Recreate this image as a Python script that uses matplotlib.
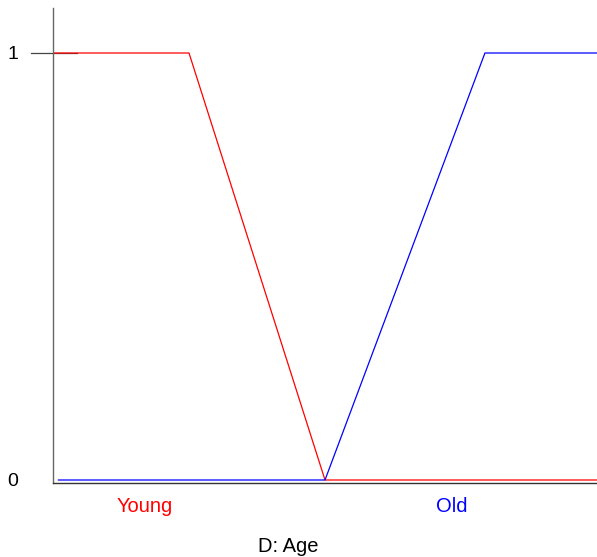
import matplotlib
matplotlib.use("Agg")
import matplotlib.pyplot as plt

plt.rcParams['font.family'] = ['Liberation Sans', 'DejaVu Sans']

# membership functions for age
age = [0, 25, 50, 100]
young = [1, 1, 0, 0]
old_age = [1, 50, 79.4, 100]
old = [0, 0, 1, 1]

yticks = [0, 1]
labels = ["Young", "Old"]
xlabel = "D: Age"

W, H = 597, 557
fig = plt.figure(figsize=(W / 100, H / 100), dpi=100)
ax = fig.add_axes([53 / W, 74 / H, (W - 53) / W, 475 / H])

ax.plot(age, young, color='#ff0000', lw=0.9)
ax.plot(old_age, old, color='#0000ff', lw=0.9)

ax.set_xlim(0, 100)
ax.set_ylim(-3 / 427, 1 + 45 / 427)

for s in ['top', 'right']:
    ax.spines[s].set_visible(False)
ax.spines['left'].set_color('#666666')
ax.spines['bottom'].set_color('#333333')
ax.spines['left'].set_linewidth(1)
ax.spines['bottom'].set_linewidth(1)

ax.set_xticks([])
ax.set_yticks(yticks)
ax.set_yticklabels([str(v) for v in yticks], fontsize=14)
ax.tick_params(axis='y', length=0, pad=25)

# short tick line at 1 crossing the axis
ax.plot([-4.0, 4.4], [1, 1], color='#444444', lw=0.9, clip_on=False, zorder=1)

fig.text(145 / W, 1 - 507 / H, labels[0], color='#ff0000', fontsize=14.5,
         ha='center', va='center')
fig.text(452 / W, 1 - 507 / H, labels[1], color='#0000ff', fontsize=14.5,
         ha='center', va='center')
fig.text(288 / W, 1 - 546 / H, xlabel, color='black', fontsize=14.5,
         ha='center', va='center')

fig.savefig('out.png', dpi=100)
